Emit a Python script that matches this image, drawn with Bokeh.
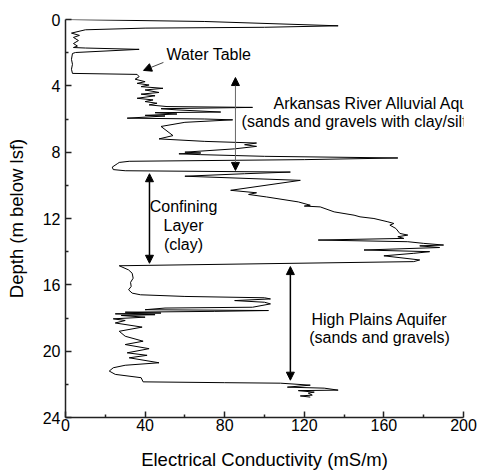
from bokeh.plotting import figure
from bokeh.models import Range1d, FixedTicker, Label, Arrow, NormalHead, ColumnDataSource
from bokeh.embed import file_html
from bokeh.resources import INLINE

# Electrical conductivity log (mS/m) vs depth (m below land surface)
ec_ms_m = [
    1, 70, 137, 100, 40, 10, 3,
    7, 4, 6.5, 4, 6, 4, 10, 37, 5, 3.5,
    3, 3.5, 3, 3.5, 36,
    37, 35, 40, 36, 42, 38, 49, 40, 47, 38, 45, 36, 44, 40, 46, 42, 51,
    94, 48, 56, 78, 45, 56, 40, 50, 31, 70, 84, 60, 48,
    54, 47, 70, 96, 90, 96, 85, 60, 68, 57, 68, 100, 167, 120, 32, 27, 26, 23.5, 24, 30,
    113, 90, 60, 118, 83, 96, 92, 101, 117, 123, 120, 128, 135, 145, 148, 155, 162,
    165, 163, 166, 168, 172, 167, 170, 127, 172, 180, 190, 178, 188, 150, 183, 175,
    160, 178, 175,
    27, 31.7, 33.5, 34, 32.7, 33, 31.7, 33.5, 37.7,
    60, 100, 103, 85, 100, 103, 94, 50, 40, 102, 75, 30, 48, 25, 45, 28, 40, 24,
    30, 25, 38.5, 27, 30, 39, 30, 42, 31, 41, 32, 47, 30, 24, 22, 25, 38, 39,
    80, 108, 123, 111.5, 130, 137, 117, 125, 122, 124, 118, 123,
]
depth_m = [
    0.0, 0.12, 0.38, 0.47, 0.52, 0.62, 0.82,
    0.96, 1.08, 1.27, 1.45, 1.6, 1.69, 1.72, 1.8, 1.99, 2.05,
    2.4, 2.7, 3.0, 3.25, 3.31,
    3.45, 3.6, 3.75, 3.85, 3.95, 4.05, 4.15, 4.25, 4.4, 4.5, 4.6, 4.75, 4.85, 4.95, 5.05, 5.15, 5.25,
    5.3, 5.38, 5.45, 5.58, 5.62, 5.7, 5.78, 5.82, 5.95, 6.0, 6.05, 6.2, 6.45,
    7.0, 7.2, 7.35, 7.45, 7.55, 7.65, 7.8, 8.0, 8.05, 8.1, 8.15, 8.25, 8.35, 8.45, 8.55, 8.62, 8.7, 8.9, 9.05, 9.12,
    9.2, 9.3, 9.45, 9.7, 10.3, 10.45, 10.55, 10.7, 11.0, 11.2, 11.25, 11.3, 11.6, 11.8, 11.9, 12.0, 12.2,
    12.3, 12.4, 12.6, 12.9, 13.0, 13.1, 13.2, 13.3, 13.4, 13.5, 13.6, 13.65, 13.75, 13.9, 14.0, 14.1,
    14.25, 14.5, 14.6,
    14.85, 15.1, 15.3, 15.6, 15.85, 16.1, 16.3, 16.5, 16.6,
    16.7, 16.78, 16.85, 16.95, 17.05, 17.15, 17.35, 17.4, 17.5, 17.55, 17.6, 17.65, 17.7, 17.75, 17.8, 17.85, 17.95, 18.05,
    18.15, 18.3, 18.55, 18.8, 19.1, 19.4, 19.6, 19.85, 20.1, 20.25, 20.4, 20.7, 20.85, 21.0, 21.2, 21.4, 21.6, 21.85,
    21.9, 21.93, 22.05, 22.17, 22.23, 22.35, 22.38, 22.47, 22.53, 22.65, 22.7, 22.77,
]

x_ticks = [0, 40, 80, 120, 160, 200]
x_minor = [20, 60, 100, 140, 180]
y_ticks = [0, 4, 8, 12, 16, 20, 24]
y_minor = [2, 6, 10, 14, 18, 22]

FONT = "Liberation Sans"

p = figure(width=479, height=472,
           x_range=Range1d(0, 200), y_range=Range1d(24, 0),
           output_backend="svg", toolbar_location=None,
           min_border_left=65, min_border_right=16,
           min_border_top=19, min_border_bottom=54)
p.outline_line_color = None
p.grid.visible = False
p.background_fill_color = "white"

src = ColumnDataSource(data=dict(ec=ec_ms_m, depth=depth_m))
p.line("ec", "depth", source=src, line_color="black", line_width=1)

for ax in (p.xaxis[0], p.yaxis[0]):
    ax.axis_line_color = "#222222"
    ax.axis_line_width = 1.5
    ax.major_tick_line_color = "#222222"
    ax.minor_tick_line_color = "#222222"
    ax.major_tick_line_width = 1.5
    ax.minor_tick_line_width = 1.5
    ax.major_tick_in = 6
    ax.major_tick_out = 0
    ax.minor_tick_in = 3
    ax.minor_tick_out = 0
    ax.major_label_text_font = FONT
    ax.major_label_text_font_size = "16px"
    ax.major_label_text_color = "black"
    ax.axis_label_text_font = FONT
    ax.axis_label_text_font_size = "18.5px"
    ax.axis_label_text_font_style = "normal"
    ax.axis_label_text_color = "black"

p.xaxis.ticker = FixedTicker(ticks=x_ticks, minor_ticks=x_minor)
p.yaxis.ticker = FixedTicker(ticks=y_ticks, minor_ticks=y_minor)
p.xaxis.axis_label = "Electrical Conductivity (mS/m)"
p.yaxis.axis_label = "Depth (m below lsf)"
p.xaxis.major_label_standoff = 1
p.yaxis.major_label_standoff = 5
p.xaxis.axis_label_standoff = 15
p.yaxis.axis_label_standoff = 13


def head():
    return NormalHead(size=8, fill_color="black", line_color="black", line_width=1)

# Arrows
p.add_layout(Arrow(start=head(), end=head(), x_start=85.4, y_start=3.5, x_end=85.4, y_end=9.1,
                   line_color="#666666", line_width=1))
p.add_layout(Arrow(start=head(), end=head(), x_start=42.2, y_start=9.3, x_end=42.2, y_end=14.7,
                   line_color="black", line_width=1.5))
p.add_layout(Arrow(start=head(), end=head(), x_start=113, y_start=14.9, x_end=113, y_end=21.75,
                   line_color="black", line_width=1.5))
p.add_layout(Arrow(end=head(), x_start=49.2, y_start=2.59, x_end=39.2, y_end=3.07,
                   line_color="#444444", line_width=1))

# Text labels
def lab(x, y, t, align="left"):
    p.add_layout(Label(x=x, y=y, text=t, text_font=FONT, text_font_size="16px",
                       text_align=align, text_baseline="middle", text_color="black"))

lab(50.7, 2.1, "Water Table")
lab(104.5, 5.05, "Arkansas River Alluvial Aqui")
lab(88.5, 6.15, "(sands and gravels with clay/silt")
lab(59.3, 11.3, "Confining", "center")
lab(59.3, 12.45, "Layer", "center")
lab(59.3, 13.55, "(clay)", "center")
lab(157.8, 18.1, "High Plains Aquifer", "center")
lab(157.8, 19.2, "(sands and gravels)", "center")

open("out.html", "w").write(file_html(p, INLINE))
